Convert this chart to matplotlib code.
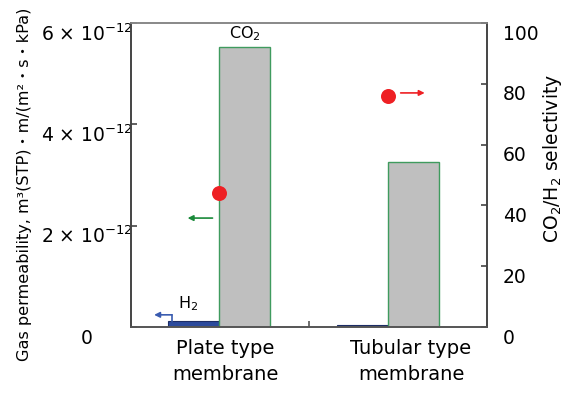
import matplotlib
matplotlib.use("Agg")
import matplotlib.pyplot as plt
import matplotlib.transforms as mtransforms
from matplotlib.ticker import FixedLocator

plt.rcParams['font.family'] = ['DejaVu Sans', 'Noto Sans CJK JP']
plt.rcParams['mathtext.fontset'] = 'dejavusans'

# Data
membranes = ["Plate type\nmembrane", "Tubular type\nmembrane"]
h2_perm = [0.12e-12, 0.04e-12]      # H2 permeability
co2_perm = [5.53e-12, 3.26e-12]     # CO2 permeability
selectivity = [44, 76]              # CO2/H2 selectivity
left_ticks = [0, 2e-12, 4e-12, 6e-12]
left_ticklabels = ["0", r"2 × 10$^{-12}$", r"4 × 10$^{-12}$", r"6 × 10$^{-12}$"]
right_ticks = [0, 20, 40, 60, 80, 100]

group_x = [0.494, 1.444]
label_x = [0.528, 1.573]
bar_w = 0.287

fig = plt.figure(figsize=(5.66, 3.94), dpi=100)
ax = fig.add_axes([131 / 566, 1 - 327 / 394, 356 / 566, 304 / 394])
ax2 = ax.twinx()

h2_x = [g - bar_w for g in group_x]
ax.bar(h2_x, h2_perm, width=bar_w, align='edge', color='#2b4a9c',
       edgecolor='#1c2d66', linewidth=0.8, zorder=2)
ax.bar(group_x, co2_perm, width=bar_w, align='edge', color='#bfbfbf',
       edgecolor='#3f9b5e', linewidth=1.0, zorder=2)

ax.set_xlim(0, 2)
ax.set_ylim(0, 6e-12)
ax2.set_ylim(0, 100)

ax2.plot(group_x, selectivity, 'o', color='#ee2024', markersize=10.8,
         markeredgewidth=0, zorder=5, clip_on=False)

# Series labels
ax.text(group_x[0] + bar_w / 2, co2_perm[0] + 0.08e-12, r"CO$_2$",
        ha='center', va='bottom', fontsize=11.5)
ax.text(group_x[0] - bar_w / 2 - 0.03, h2_perm[0] + 0.15e-12, r"H$_2$",
        ha='center', va='bottom', fontsize=11.5)

# Axis-pointer arrows
ax.annotate("", xy=(0.318, 2.15e-12), xytext=(0.458, 2.15e-12),
            arrowprops=dict(arrowstyle='-|>', color='#1a8a3a', lw=1.2,
                            mutation_scale=8, shrinkA=0, shrinkB=0))
ax.plot([0.230, 0.230], [h2_perm[0], 0.24e-12], color='#3a5cb0', lw=1.2)
ax.annotate("", xy=(0.130, 0.24e-12), xytext=(0.230, 0.24e-12),
            arrowprops=dict(arrowstyle='-|>', color='#3a5cb0', lw=1.2,
                            mutation_scale=8, shrinkA=0, shrinkB=0))
ax2.annotate("", xy=(1.650, 77), xytext=(1.515, 77),
             arrowprops=dict(arrowstyle='-|>', color='#ee2024', lw=1.2,
                             mutation_scale=8, shrinkA=0, shrinkB=0))

# Spines
for a in (ax, ax2):
    a.spines['top'].set_color('#888888')
    a.spines['left'].set_color('#444444')
    a.spines['right'].set_color('#444444')
    a.spines['bottom'].set_color('#555555')
    for s in a.spines.values():
        s.set_linewidth(1.2)

# X axis: category labels without marks, one inward divider tick
ax.xaxis.set_major_locator(FixedLocator(label_x))
ax.set_xticklabels(membranes, fontsize=14, linespacing=1.45)
ax.xaxis.set_minor_locator(FixedLocator([1.0]))
ax.tick_params(axis='x', which='major', length=0, pad=9)
ax.tick_params(axis='x', which='minor', direction='in', length=4.5,
               width=1.2, color='#555555')

# Left y axis
ax.set_yticks(left_ticks)
ax.set_yticklabels(left_ticklabels, fontsize=13.5, ha='center')
ax.tick_params(axis='y', direction='in', length=4.5, width=1.2,
               color='#444444', pad=32)

# Right y axis
ax2.set_yticks(right_ticks)
ax2.set_yticklabels([str(t) for t in right_ticks], fontsize=13.5)
ax2.tick_params(axis='y', direction='in', length=4.5, width=1.2,
                color='#444444', pad=11.5)

# Tick labels sit a little below their ticks
shift = mtransforms.ScaledTranslation(0, -9 / 100, fig.dpi_scale_trans)
for lab in ax.get_yticklabels() + ax2.get_yticklabels():
    lab.set_transform(lab.get_transform() + shift)

fig.text(25 / 566, 1 - 184 / 394,
         "Gas permeability, m³(STP)・m/(m²・s・kPa)",
         rotation=90, ha='center', va='center', fontsize=11.6)
fig.text(552 / 566, 1 - 158 / 394, r"CO$_2$/H$_2$ selectivity",
         rotation=90, ha='center', va='center', fontsize=13.5)

fig.savefig("out.png", dpi=100)
